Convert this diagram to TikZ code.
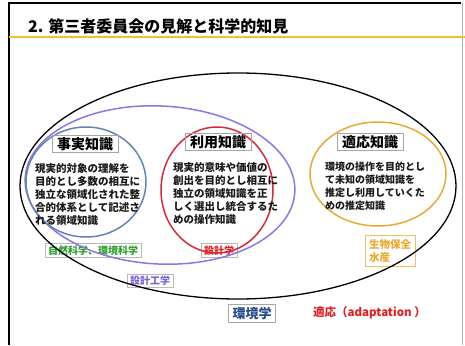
\documentclass[tikz,border=0pt]{standalone}
\usepackage{fontspec}
\setmainfont{Noto Sans CJK JP}
\definecolor{eblue}{HTML}{5F86B0}
\definecolor{ered}{HTML}{D42A3A}
\definecolor{eorange}{HTML}{E8A935}
\definecolor{epurple}{HTML}{8E74E6}
\definecolor{tgreen}{HTML}{2E9E2E}
\definecolor{tred}{HTML}{E02020}
\definecolor{tpurple}{HTML}{7A5FD8}
\definecolor{tblue}{HTML}{284A8E}
\definecolor{tyellow}{HTML}{F2C22A}
\definecolor{torange}{HTML}{EBA830}
\tikzset{
  ring/.style={line width=1.5pt},
  headbox/.style={draw=gray!70, line width=0.7pt, inner xsep=5pt, inner ysep=2pt,
    font=\fontsize{14}{16}\selectfont\bfseries, text=black},
  bodytext/.style={align=left, anchor=north west, inner sep=0pt,
    font=\fontsize{10.5}{13}\selectfont\bfseries, text=black!90},
  tagbox/.style={draw=gray!55, line width=0.8pt, inner xsep=3pt, inner ysep=2pt,
    font=\fontsize{10}{12}\selectfont\bfseries},
}
\begin{document}
\begin{tikzpicture}[x=1pt,y=-1pt]
\useasboundingbox (0,0) rectangle (465,345);
% frame
\draw[line width=1.6pt] (9,345) -- (9,3) -- (461,3);
\draw[gray!60, line width=0.6pt] (462,3) -- (462,345);
% title
\node[anchor=base west, inner sep=0pt, font=\fontsize{16}{18}\selectfont\bfseries] (title) at (28,33) {2. 第三者委員会の見解と科学的知見};
\draw[tyellow, line width=2pt] (9,37.5) -- (465,37.5);
% tag labels
\node[tagbox, text=tgreen] (nat) at (93,250.5) {自然科学、環境科学};
\node[tagbox, text=tred] (des) at (219,250.5) {設計学};
\node[tagbox, text=tpurple] (deseng) at (150,281) {設計工学};
\node[tagbox, draw=torange!75, text=torange, align=left, inner xsep=4pt, inner ysep=4pt,
  font=\fontsize{10.5}{13}\selectfont\bfseries] (bio) at (390,250.5) {生物保全\\水産\hspace{21pt}};
% ellipses
\draw[ring, black, line width=1.3pt] (238,186) ellipse [x radius=218, y radius=113];
\draw[ring, epurple, rotate around={-3:(160,185)}] (160,185) ellipse [x radius=135, y radius=79];
\draw[ring, eblue] (86,182) ellipse [x radius=60, y radius=55];
\draw[ring, ered] (217,190) ellipse [x radius=56, y radius=63];
\draw[ring, eorange] (378,174) ellipse [x radius=68, y radius=52];
% headings
\node[headbox] (fact) at (85,144) {事実知識};
\node[headbox] (use) at (218,142) {利用知識};
\node[headbox] (adapt) at (370,142) {適応知識};
% body texts
\node[bodytext] (factt) at (35,163) {現実的対象の理解を\\目的とし多数の相互に\\独立な領域化された整\\合的体系として記述さ\\れる領域知識};
\node[bodytext] (uset) at (173,162) {現実的意味や価値の\\創出を目的とし相互に\\独立の領域知識を正\\しく選出し統合するた\\めの操作知識};
\node[bodytext, font=\fontsize{10}{13}\selectfont\bfseries] (adaptt) at (325,162) {環境の操作を目的とし\\て未知の領域知識を\\推定し利用していくた\\めの推定知識};
% bottom
\node[draw=gray!70, line width=0.7pt, inner xsep=4pt, inner ysep=3pt, text=tblue,
  font=\fontsize{13}{15}\selectfont\bfseries] (env) at (252,313.5) {環境学};
\node[anchor=west, inner sep=0pt, text=tred, font=\fontsize{11.5}{14}\selectfont\bfseries] (adaptation) at (313,313) {適応（adaptation ）};
\end{tikzpicture}
\end{document}
